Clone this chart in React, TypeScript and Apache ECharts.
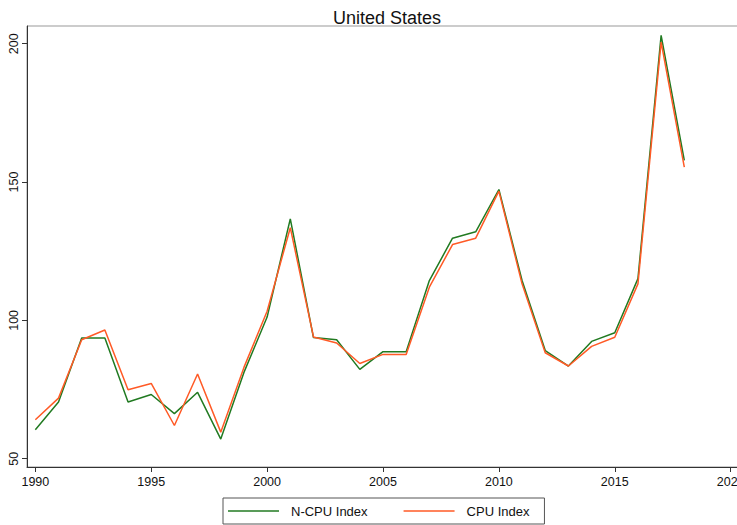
import React, { useEffect, useRef } from "react";
import * as echarts from "echarts";

const years = [1990, 1991, 1992, 1993, 1994, 1995, 1996, 1997, 1998, 1999, 2000, 2001, 2002, 2003, 2004, 2005, 2006, 2007, 2008, 2009, 2010, 2011, 2012, 2013, 2014, 2015, 2016, 2017, 2018];
const nCpuIndex = [60.5, 70.5, 93.6, 93.6, 70.5, 73.2, 66.3, 74.0, 57.1, 81.2, 101.2, 136.7, 93.8, 93.0, 82.3, 88.7, 88.7, 114.4, 129.7, 132.0, 147.3, 114.4, 89.1, 83.5, 92.4, 95.5, 115.1, 203.0, 157.8];
const cpuIndex = [64.1, 71.9, 93.0, 96.5, 74.9, 77.2, 62.0, 80.6, 59.6, 83.0, 103.3, 133.5, 94.0, 91.8, 84.4, 87.7, 87.7, 112.0, 127.4, 129.7, 146.7, 113.2, 88.3, 83.5, 90.6, 93.9, 113.2, 200.6, 155.4];
const xTicks = [1990, 1995, 2000, 2005, 2010, 2015, 2020];
const yTicks = [50, 100, 150, 200];
const seriesNames = ["N-CPU Index", "CPU Index"];
const titleText = "United States";

const FONT = "Liberation Sans, Arial, Helvetica, sans-serif";

export default function App() {
  const ref = useRef<HTMLDivElement>(null);
  useEffect(() => {
    if (!ref.current) return;
    const chart = echarts.init(ref.current, undefined, { renderer: "svg" });
    chart.setOption({
      animation: false,
      backgroundColor: "#ffffff",
      title: {
        text: titleText,
        left: 382,
        top: 4,
        textAlign: "center",
        textStyle: { fontFamily: FONT, fontSize: 18, fontWeight: "normal", color: "#111" },
      },
      legend: {
        data: seriesNames,
        left: 223,
        top: 498,
        orient: "horizontal",
        icon: "rect",
        itemWidth: 51,
        itemHeight: 2,
        itemGap: 36,
        padding: [6, 15, 6, 5],
        borderColor: "#555",
        borderWidth: 1,
        itemStyle: { opacity: 0.75 },
        textStyle: { fontFamily: FONT, fontSize: 13, color: "#111", padding: [0, 0, 0, 7], lineHeight: 14 },
      },
      grid: {
        left: 27,
        top: 26,
        right: -2,
        bottom: 58,
        show: true,
        borderColor: "#999",
        borderWidth: 1,
        containLabel: false,
        outerBoundsMode: "none",
      },
      xAxis: {
        type: "value",
        min: 1989.64,
        max: 2020.36,
        splitLine: { show: false },
        axisLine: { show: true, lineStyle: { color: "#333", width: 1 } },
        axisTick: { show: true, length: 5, inside: false, customValues: xTicks, lineStyle: { color: "#333" } },
        axisLabel: {
          customValues: xTicks,
          margin: 8,
          fontFamily: FONT,
          fontSize: 12.5,
          color: "#111",
          hideOverlap: false,
          formatter: (v: number) => String(v),
        },
      },
      yAxis: {
        type: "value",
        min: 47,
        max: 206.4,
        splitLine: { show: false },
        axisLine: { show: true, lineStyle: { color: "#333", width: 1 } },
        axisTick: { show: true, length: 5, inside: false, customValues: yTicks, lineStyle: { color: "#333" } },
        axisLabel: {
          customValues: yTicks,
          rotate: 90,
          margin: 7,
          fontFamily: FONT,
          fontSize: 12.5,
          color: "#111",
          formatter: (v: number) => String(v),
        },
      },
      series: [
        {
          name: seriesNames[0],
          type: "line",
          data: years.map((y, i) => [y, nCpuIndex[i]]),
          symbol: "none",
          lineStyle: { color: "#217a21", width: 1.5 },
          itemStyle: { color: "#217a21" },
          z: 2,
        },
        {
          name: seriesNames[1],
          type: "line",
          data: years.map((y, i) => [y, cpuIndex[i]]),
          symbol: "none",
          lineStyle: { color: "#ff5a26", width: 1.5 },
          itemStyle: { color: "#ff5a26" },
          z: 3,
        },
      ],
    });
    return () => chart.dispose();
  }, []);
  return (
    <div
      ref={ref}
      style={{ position: "absolute", left: 0, top: 0, width: 737, height: 525, background: "#fff" }}
    />
  );
}
